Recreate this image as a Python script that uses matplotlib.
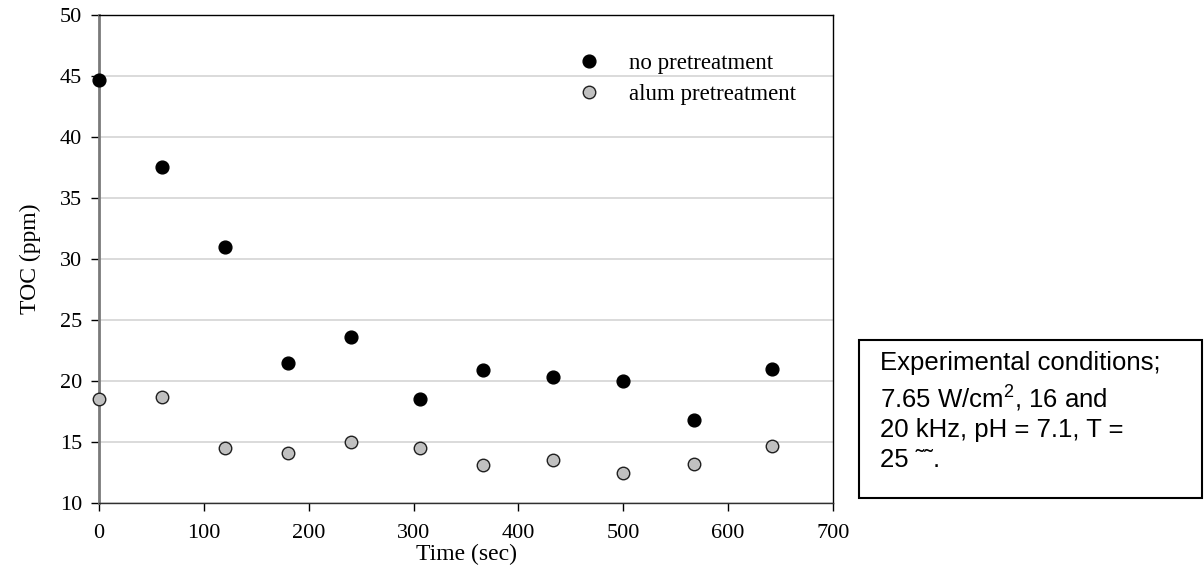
import matplotlib
matplotlib.use('Agg')
import matplotlib.pyplot as plt
from matplotlib.patches import Rectangle

# TOC vs. sonication time
time_sec = [0, 60, 120, 180, 240, 306, 366, 433, 500, 567, 642]
toc_no_pre = [44.7, 37.5, 31.0, 21.5, 23.6, 18.5, 20.9, 20.3, 20.0, 16.8, 21.0]
toc_alum = [18.5, 18.7, 14.5, 14.1, 15.0, 14.5, 13.1, 13.5, 12.5, 13.2, 14.7]

x_ticks = [0, 100, 200, 300, 400, 500, 600, 700]
y_ticks = [10, 15, 20, 25, 30, 35, 40, 45, 50]

box_text = ("Experimental conditions;\n"
            "7.65 W/cm$^2$, 16 and\n"
            "20 kHz, pH = 7.1, T =\n"
            "25 \u02dc\u02dc.")

plt.rcParams['font.family'] = 'Liberation Serif'
plt.rcParams['mathtext.fontset'] = 'custom'
plt.rcParams['mathtext.rm'] = 'Liberation Sans'

fig = plt.figure(figsize=(12.04, 5.82), dpi=100)
W, H = 1204, 582
ax = fig.add_axes([99 / W, 1 - 503 / H, (833 - 99) / W, (503 - 15) / H])

ax.set_xlim(0, 700)
ax.set_ylim(10, 50)
ax.set_xticks(x_ticks)
ax.set_yticks(y_ticks)
ax.yaxis.grid(True, color='#d4d4d4', linewidth=1.2)
ax.set_axisbelow(True)

ax.plot(time_sec, toc_no_pre, 'o', ms=9.2, color='black', mec='black',
        label='no pretreatment', clip_on=False, zorder=3)
ax.plot(time_sec, toc_alum, 'o', ms=9.0, color='#c0c0c0', mec='#202020', mew=1.0,
        label='alum pretreatment', clip_on=False, zorder=3)

ax.spines['left'].set_color('#7a7a7a')
ax.spines['left'].set_linewidth(2.0)
for s in ['top', 'right', 'bottom']:
    ax.spines[s].set_color('black')
    ax.spines[s].set_linewidth(1.0)
ax.spines['bottom'].set_color('#303030')

ax.tick_params(axis='both', direction='out', length=6, width=1, labelsize=16, colors='black')
ax.tick_params(axis='y', pad=6)
ax.tick_params(axis='x', pad=9)

ax.set_xlabel('Time (sec)', fontsize=17, labelpad=1)
ax.set_ylabel('TOC (ppm)', fontsize=17, labelpad=14)

ax.legend(loc='upper left', bbox_to_anchor=(575 / W, 1 - 53 / H),
          bbox_transform=fig.transFigure, frameon=False, fontsize=16.5,
          handletextpad=1.15, labelspacing=0.45, borderaxespad=0, borderpad=0,
          handlelength=1.2)

fig.patches.append(Rectangle((859 / W, 1 - 498 / H), (1202 - 859) / W, (498 - 340) / H,
                             transform=fig.transFigure, fill=False, edgecolor='black',
                             linewidth=1.5))
fig.text(880 / W, 1 - 351 / H, box_text, family='Liberation Sans', fontsize=18.5,
         va='top', ha='left', linespacing=1.28)

fig.savefig('out.png', dpi=100)
